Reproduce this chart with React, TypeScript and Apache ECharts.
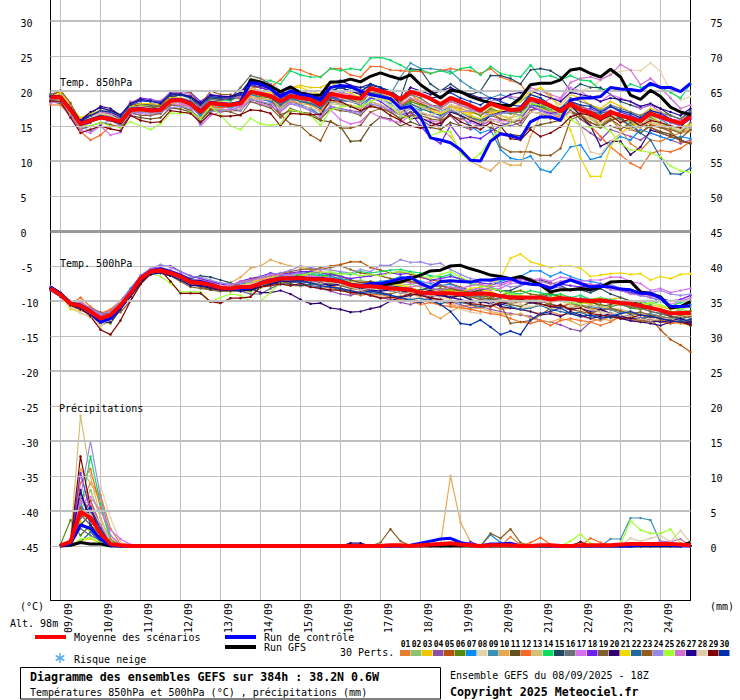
import React, { useEffect, useRef } from "react";
import * as echarts from "echarts";

const N = 65;
const dayNames = ["09/09","10/09","11/09","12/09","13/09","14/09","15/09","16/09","17/09","18/09","19/09","20/09","21/09","22/09","23/09","24/09"];
const categories: string[] = [];
for (let i = 0; i < N; i++) categories.push((i - 1) % 4 === 0 ? dayNames[(i - 1) / 4] : "s" + i);

const leftTicks = [30,25,20,15,10,5,0,-5,-10,-15,-20,-25,-30,-35,-40,-45];
const rightTicks = [75,70,65,60,55,50,45,40,35,30,25,20,15,10,5,0];
const thinLines = [25,15,5,-5,-15,-25,-35,-45];
const thickLines = [30,20,10,-10,-20,-30,-40];
const doubleLines = [0];

const memberColors = ["#e87d2e","#8bc46c","#f0c400","#8c4fa8","#b8520a","#548a0a","#0a8cf5","#e6d4a8","#3c90b8","#e8a850","#665020","#f86820","#d0c078","#0adc64","#204860","#687078","#d870f0","#7020f0","#806030","#300070","#f0d800","#2068a0","#905c20","#9888e8","#a0ff30","#d070d0","#200090","#e0cca8","#800000","#0030b0"];

const mean850 = [19.1,19.1,17.3,15.3,15.8,16.2,16,15.6,17.3,17.4,17.2,17.3,18.6,18.7,18.2,17,18.3,18.1,18,18.2,19.9,19.6,19.3,18.5,19.3,19,18.8,18,19.6,19.3,19.1,18.9,20.4,20,19.6,18.8,19.9,19.5,18.9,18.1,19,18.5,17.9,17.2,18.2,17.7,17.3,17.4,18.9,18.5,17.9,17.1,18.2,17.3,16.9,16.1,17,16.5,16.1,15.7,16.8,16.3,15.8,15.4,16.3];
const control850 = [19.2,19.1,17.4,15.4,15.9,16.3,16.1,15.6,17.4,17.5,17.3,17.4,18.7,18.8,18.3,17.2,18.4,18.2,18.1,18.4,21.2,21,20.3,19.2,20,19.5,19.3,18.8,20.5,20.8,20.6,20,19.5,19.2,18.9,17.5,17.8,16.3,13.3,13,12.6,11.6,10.1,10,12.8,13.9,13.6,13.2,15.6,16.3,16.3,15.8,18.7,19,19,19.2,20.5,20.3,20.2,20,21.1,20.5,20.5,19.9,21.1];
const gfs850 = [19.1,19.1,17.3,15.2,15.7,16.2,15.9,15.5,17.3,17.4,17.2,17.3,18.6,18.7,18.2,17,18.3,18.1,18,18.3,21.6,21.3,20.7,19.9,20.6,19.7,19.4,19.4,21.3,21.3,21.7,21.3,22.1,22.6,22.1,21.7,22.3,20.9,19.9,19,20.1,19.9,19.2,18.7,18.3,18,17.9,19,20.9,21.1,21.1,21.6,23,23.2,22.5,22,23.1,22,19.4,18.8,20.1,19.2,17.7,17,16.6];

const mean500 = [-8.2,-9.1,-10.4,-10.7,-11.5,-12.5,-12,-10.6,-8.9,-6.8,-5.8,-5.6,-6,-6.5,-7.3,-7.4,-7.7,-8.1,-8.2,-8,-8,-7.5,-7.1,-6.8,-6.8,-6.7,-6.9,-6.9,-7,-7.2,-7.7,-7.9,-7.9,-8,-8.2,-8.3,-8.4,-8.8,-8.9,-8.9,-8.9,-9,-9,-8.9,-9,-9.3,-9.5,-9.5,-9.5,-9.5,-9.8,-9.6,-9.7,-9.9,-10,-9.9,-10.1,-10.3,-10.4,-10.7,-11,-11.3,-11.8,-11.7,-11.7];
const control500 = [-8,-9,-10.4,-10.8,-11.6,-13,-12.5,-10.8,-9,-6.7,-5.7,-5.4,-5.8,-6.3,-7.1,-7.2,-7.6,-8.1,-8.3,-8.2,-8.2,-7.4,-7,-6.7,-6.7,-6.6,-6.8,-6.8,-6.9,-7.1,-7.6,-7.8,-7.5,-7.5,-7.2,-6.8,-6.6,-7.5,-8.1,-7.2,-7.1,-7.2,-7.3,-7,-7,-6.8,-6.8,-7.4,-7.6,-7.7,-8.2,-7.5,-7,-7.5,-8,-7.9,-8,-8.3,-8.4,-8.9,-8.9,-9.6,-10.8,-10.8,-10.7];
const gfs500 = [-8,-8.9,-10.3,-10.6,-11.4,-12.8,-12.2,-10.7,-9,-6.8,-5.8,-5.5,-6,-6.4,-7.2,-7.3,-7.7,-8.2,-8.3,-8.2,-8.3,-7.5,-7.1,-6.8,-6.8,-6.7,-6.9,-6.9,-7,-7.2,-7.7,-7.9,-7.9,-7.8,-7.5,-7.3,-6.8,-6.3,-5.7,-5.6,-5,-4.9,-5.4,-5.8,-6.3,-6.5,-6.8,-6.5,-7,-7.7,-8.7,-8.4,-8.4,-8.2,-8.4,-8,-7.3,-7.2,-7.2,-8.7,-8.9,-9.4,-11,-10.8,-10.1];

const meanPrecip = [null,0.1,0.6,4.9,4,1.8,0.3,0.1,0,0,0,0,0,0,0,0,0,0,0,0,0,0,0,0,0,0,0,0,0,0,0,0,0,0,0.1,0.1,0,0.1,0.2,0.3,0.4,0.2,0.1,0,0.1,0.1,0.1,0,0,0.1,0.1,0,0,0.1,0.1,0.1,0.1,0.2,0.3,0.3,0.3,0.3,0.3,0.2,0.1];
const controlPrecip = [null,0,0.3,3,2.5,1,0.1,0,0,0,0,0,0,0,0,0,0,0,0,0,0,0,0,0,0,0,0,0,0,0,0,0,0,0,0,0,0.1,0.4,0.7,1,1.1,0.5,0.2,0,0.3,0.3,0.4,0,0,0,0,0,0,0,0,0,0,0,0,0.1,0.1,0.1,0.1,0,0];
const gfsPrecip = [null,0,0.1,0.5,0.3,0.3,0,0,0,0,0,0,0,0,0,0,0,0,0,0,0,0,0,0,0,0,0,0,0,0,0,0,0,0,0,0,0,0,0,0,0,0,0,0,0,0,0,0,0,0,0,0,0,0,0,0,0,0,0,0,0,0,0,0,0.5];

// Perturbations: temperatures in tenths of a degree, from 18Z on 08/09 every 6 h
const members850 = [
[187,188,170,150,158,162,158,153,170,170,168,172,184,186,180,165,180,178,178,182,198,195,190,178,188,185,180,172,190,188,185,180,200,198,190,182,195,185,175,170,178,175,170,165,172,170,172,178,190,180,172,165,178,172,165,150,160,145,125,115,130,128,135,140,145],
[190,192,172,155,160,168,165,158,175,178,175,176,186,188,182,172,184,182,182,185,205,200,195,185,195,190,188,180,195,192,190,185,198,195,188,175,185,180,172,165,175,170,165,160,170,172,168,165,185,178,172,170,180,165,160,150,165,160,155,150,160,155,150,145,148],
[185,190,175,158,165,170,168,160,178,180,178,178,188,185,180,170,182,180,178,185,200,198,200,190,205,208,205,205,212,205,200,195,205,200,195,180,188,190,175,165,178,172,168,170,178,165,160,175,195,205,190,180,195,190,180,175,185,178,170,165,175,170,165,160,165],
[188,185,168,148,155,165,160,155,172,175,172,170,182,180,178,165,178,175,172,178,190,188,185,175,185,180,175,165,178,175,172,170,185,180,170,160,170,160,150,155,165,150,145,150,158,155,150,155,172,175,170,160,172,150,140,130,145,140,135,130,140,135,130,125,130],
[192,195,178,160,162,165,165,158,170,172,170,172,190,195,192,175,190,188,190,195,208,205,200,185,195,192,188,182,198,195,192,190,205,200,190,178,188,182,175,172,180,178,175,168,170,160,155,158,172,180,178,170,185,178,172,165,170,165,145,140,152,148,142,128,125],
[186,188,170,152,160,165,162,156,172,172,170,172,185,186,180,170,182,180,178,182,195,192,190,182,190,186,182,178,192,190,188,182,198,192,188,178,185,180,178,175,185,180,172,165,175,170,168,170,182,178,170,165,178,170,170,160,170,165,158,150,162,155,148,140,150],
[189,190,172,155,162,165,160,152,168,170,172,172,185,184,178,165,180,178,176,180,195,190,185,178,188,180,175,165,185,182,178,175,190,188,182,170,178,172,178,172,175,165,150,140,145,116,104,101,107,88,84,100,120,123,102,106,125,135,130,145,140,135,130,135,132],
[195,200,180,160,168,172,170,165,180,182,180,178,190,190,188,172,185,185,186,190,218,218,215,200,205,200,198,190,200,198,195,190,200,198,192,185,190,185,178,172,180,178,172,168,178,175,172,175,190,195,190,180,195,200,205,215,225,228,230,229,240,228,200,187,192],
[190,188,172,152,158,162,160,155,172,174,172,172,186,186,180,168,182,180,180,184,198,196,192,182,192,186,184,176,192,195,205,205,205,200,195,220,240,232,232,230,228,215,205,198,190,195,190,185,195,190,175,170,180,172,165,160,165,170,165,158,165,160,150,148,152],
[186,186,170,154,162,168,164,156,174,176,174,174,186,184,178,168,180,180,178,180,192,190,188,178,186,182,180,172,186,182,180,175,185,180,172,168,178,170,160,145,135,115,100,92,86,100,94,94,135,165,170,160,170,165,160,160,165,158,150,148,155,150,145,140,142],
[185,182,165,145,150,155,152,148,165,162,160,162,176,174,170,158,172,170,172,172,188,184,180,166,172,170,165,158,156,149,128,129,151,163,160,150,156,150,148,145,155,150,148,152,148,140,138,136,148,152,155,158,172,160,150,148,158,162,150,155,148,142,138,132,145],
[180,180,165,142,130,137,150,150,168,172,172,170,182,180,178,168,178,176,178,184,205,205,205,216,232,230,224,220,232,232,223,220,235,235,230,229,228,228,225,229,232,230,229,225,232,220,215,210,190,175,160,165,185,170,150,135,120,109,97,90,111,115,113,118,128],
[187,188,168,148,158,165,162,156,170,172,168,168,182,180,172,162,176,174,172,175,190,188,188,175,182,178,176,170,182,180,178,174,185,180,176,170,180,178,172,165,172,170,165,160,170,165,162,165,178,175,170,165,175,170,162,155,162,158,152,148,158,152,148,142,148],
[188,192,174,158,165,170,168,160,176,178,178,178,190,188,185,172,190,188,186,195,215,212,215,210,229,223,220,220,232,229,232,230,247,248,244,237,229,231,225,229,225,232,234,223,235,225,222,220,237,220,222,216,222,216,214,201,205,200,210,205,208,205,198,190,210],
[194,192,176,158,165,172,168,160,178,182,180,180,192,194,190,178,190,188,188,192,208,205,200,190,195,192,190,185,200,205,205,200,208,205,200,190,232,230,210,200,210,200,195,200,222,222,218,210,230,232,229,220,200,210,205,205,195,185,180,175,180,175,165,160,172],
[196,198,178,160,164,170,168,162,176,178,178,178,190,190,186,178,188,186,190,205,222,218,210,195,200,198,195,190,205,205,200,195,200,195,190,185,195,190,180,178,188,182,178,175,180,178,175,172,185,182,178,175,190,185,180,172,180,175,170,165,172,168,165,160,170],
[183,185,162,144,140,150,137,141,165,168,165,168,180,182,178,150,165,170,172,178,185,182,178,170,182,178,172,163,173,159,153,156,170,162,158,155,165,160,158,155,165,160,155,150,160,158,155,160,185,180,190,188,205,200,190,185,195,190,185,175,180,170,160,158,162],
[190,192,178,160,165,170,168,162,182,190,188,185,198,200,198,185,195,193,192,195,210,205,200,190,198,193,188,182,192,188,186,182,190,185,175,165,170,150,134,125,151,132,134,132,142,150,155,160,178,172,168,170,180,172,175,168,178,170,165,160,170,162,155,150,160],
[185,190,180,160,155,165,160,152,170,165,165,168,180,178,172,160,174,172,170,165,185,180,176,162,175,170,168,160,175,172,170,165,180,175,170,160,170,168,165,160,172,165,160,155,165,160,158,150,170,168,162,158,172,165,155,148,150,145,155,140,150,148,145,140,155],
[190,188,175,158,168,178,175,165,180,182,182,180,194,195,192,183,192,190,192,195,212,208,205,198,205,200,195,190,200,205,200,195,205,202,198,180,160,162,155,150,170,165,158,152,165,170,172,175,190,180,175,170,180,165,150,121,128,128,109,120,144,140,135,130,125],
[192,198,178,162,168,172,170,162,178,182,182,180,190,190,182,175,185,184,182,186,202,200,198,195,205,205,200,195,202,200,198,190,195,190,185,178,182,175,170,168,172,170,165,160,168,172,178,185,200,205,195,172,144,104,78,78,120,140,150,155,165,155,150,148,152],
[188,190,172,152,160,165,162,155,172,174,172,175,186,188,180,168,182,180,180,185,198,195,190,180,190,185,182,175,190,186,185,180,192,195,188,178,182,175,170,165,172,168,162,158,165,168,170,172,180,178,175,172,182,175,170,168,172,160,150,140,130,105,82,81,90],
[192,201,183,155,165,170,172,165,182,178,176,178,195,200,198,180,200,195,195,188,205,200,190,166,153,150,137,129,157,147,147,151,170,175,170,160,165,165,160,158,165,160,162,155,158,120,113,113,113,108,108,118,159,165,155,150,160,150,145,150,148,140,135,130,125],
[186,184,165,150,142,152,158,150,168,170,168,170,176,178,175,152,170,172,175,172,188,185,182,172,182,178,172,165,178,175,170,168,182,178,172,165,175,170,165,162,172,170,172,170,165,168,170,165,180,172,165,168,185,180,172,170,172,165,160,155,165,160,155,150,148],
[190,188,170,150,150,155,150,148,156,150,145,153,168,168,170,160,178,166,150,145,161,153,151,153,173,170,165,151,173,177,179,178,185,190,178,165,160,168,136,142,142,111,100,111,130,147,154,163,182,180,175,168,160,150,148,150,142,125,116,115,112,106,93,86,84],
[188,190,175,155,162,170,168,162,185,186,186,186,196,198,195,178,192,190,190,192,212,210,210,195,202,198,195,188,200,198,195,188,195,192,188,180,190,185,180,175,185,180,175,170,185,190,192,190,205,200,195,190,212,218,220,216,223,238,230,209,218,205,190,175,180],
[192,190,176,158,170,176,172,166,182,188,186,182,196,196,192,182,194,192,192,198,215,212,205,195,205,198,192,188,212,215,208,205,210,205,195,188,205,200,195,200,205,198,195,190,190,188,195,198,200,195,190,185,198,195,192,185,190,188,185,178,182,175,170,165,175],
[190,194,174,155,162,168,165,158,174,178,175,175,188,188,182,170,184,182,180,185,205,200,195,185,192,188,185,180,195,190,185,182,192,188,180,172,178,170,165,170,175,168,160,155,158,155,158,160,170,168,165,160,170,150,113,109,128,140,145,150,160,155,150,145,150],
[186,185,162,140,145,150,146,143,165,158,155,156,172,170,168,155,168,164,164,166,173,172,168,150,168,167,166,167,187,185,178,172,178,175,165,158,150,147,150,154,166,156,150,145,155,150,132,130,145,135,140,149,163,168,165,158,165,155,160,150,158,155,150,148,165],
[192,192,175,156,165,172,170,163,180,186,185,184,195,195,190,180,192,190,190,195,212,208,205,192,200,195,192,185,200,205,200,198,210,205,200,190,200,195,190,192,198,190,185,180,190,185,180,178,195,190,180,175,185,180,178,170,178,172,168,162,172,168,160,155,168],
];

const members500 = [
[-84,-92,-106,-100,-112,-118,-114,-102,-86,-64,-57,-55,-60,-68,-76,-76,-80,-85,-86,-84,-78,-72,-66,-65,-68,-70,-75,-78,-82,-85,-88,-92,-90,-92,-94,-98,-100,-102,-98,-100,-105,-108,-106,-110,-105,-112,-110,-112,-115,-118,-115,-120,-118,-122,-125,-128,-122,-120,-125,-128,-125,-128,-130,-132,-130],
[-80,-88,-102,-105,-112,-120,-124,-108,-92,-72,-60,-58,-62,-66,-74,-72,-76,-80,-84,-82,-82,-78,-70,-64,-66,-64,-62,-66,-64,-68,-72,-70,-74,-72,-75,-78,-76,-80,-86,-82,-85,-88,-90,-85,-92,-95,-90,-94,-98,-96,-100,-92,-95,-100,-105,-98,-100,-104,-100,-108,-110,-112,-118,-112,-115],
[-83,-90,-108,-112,-116,-130,-125,-110,-94,-70,-60,-58,-64,-70,-72,-76,-78,-82,-84,-78,-72,-70,-66,-62,-60,-62,-64,-66,-65,-70,-75,-74,-78,-76,-74,-75,-72,-74,-82,-85,-84,-88,-86,-84,-86,-92,-88,-85,-90,-92,-95,-92,-98,-102,-105,-100,-98,-95,-100,-102,-105,-108,-112,-110,-108],
[-82,-93,-100,-104,-118,-122,-118,-104,-88,-66,-58,-54,-62,-67,-70,-72,-74,-78,-80,-82,-84,-80,-76,-74,-76,-78,-80,-82,-86,-90,-92,-88,-92,-95,-98,-102,-105,-100,-95,-98,-102,-105,-110,-108,-112,-115,-118,-120,-122,-128,-130,-134,-140,-143,-130,-125,-120,-125,-128,-130,-125,-128,-132,-130,-135],
[-81,-90,-106,-108,-114,-125,-130,-112,-90,-70,-56,-54,-58,-64,-72,-70,-74,-78,-80,-84,-86,-80,-74,-72,-66,-62,-58,-52,-50,-48,-44,-44,-52,-56,-60,-58,-62,-66,-70,-72,-75,-80,-85,-90,-92,-94,-98,-100,-102,-100,-105,-108,-104,-106,-110,-112,-112,-115,-118,-120,-125,-141,-155,-163,-173],
[-83,-92,-104,-110,-115,-128,-132,-112,-92,-72,-62,-60,-64,-68,-76,-78,-82,-85,-86,-85,-86,-80,-76,-72,-70,-68,-66,-68,-72,-70,-74,-78,-76,-78,-80,-82,-85,-88,-85,-82,-85,-84,-88,-92,-95,-92,-88,-85,-90,-92,-88,-95,-98,-100,-102,-105,-108,-105,-110,-112,-108,-112,-115,-118,-114],
[-80,-89,-100,-105,-112,-120,-118,-100,-82,-65,-56,-55,-58,-66,-72,-72,-76,-78,-80,-76,-74,-72,-68,-64,-62,-60,-60,-62,-65,-68,-70,-72,-76,-72,-70,-65,-68,-72,-75,-78,-76,-82,-85,-80,-78,-72,-68,-65,-57,-57,-65,-59,-65,-70,-72,-75,-80,-85,-88,-92,-95,-100,-108,-112,-105],
[-84,-92,-110,-118,-122,-135,-128,-108,-90,-70,-60,-58,-60,-64,-74,-76,-80,-84,-85,-86,-88,-82,-78,-75,-78,-80,-78,-76,-74,-76,-80,-85,-88,-92,-95,-92,-96,-95,-90,-88,-92,-98,-102,-105,-102,-100,-105,-108,-110,-106,-112,-110,-108,-112,-115,-118,-116,-120,-124,-126,-125,-128,-130,-128,-126],
[-82,-90,-105,-104,-118,-128,-122,-108,-88,-66,-56,-56,-62,-68,-74,-75,-78,-82,-82,-80,-82,-78,-74,-72,-72,-70,-70,-72,-74,-75,-80,-82,-80,-82,-85,-86,-82,-85,-90,-92,-95,-92,-90,-94,-98,-100,-102,-98,-100,-102,-100,-98,-102,-106,-108,-110,-112,-118,-115,-120,-118,-122,-125,-124,-128],
[-85,-94,-108,-112,-120,-126,-118,-105,-86,-68,-60,-56,-58,-62,-70,-72,-72,-76,-74,-66,-53,-50,-41,-46,-50,-52,-55,-58,-60,-65,-70,-72,-74,-78,-82,-84,-88,-95,-118,-125,-115,-108,-112,-110,-115,-118,-120,-118,-125,-128,-130,-125,-128,-135,-130,-125,-128,-122,-125,-130,-128,-125,-130,-132,-135],
[-83,-91,-103,-108,-114,-122,-126,-110,-90,-70,-62,-58,-62,-66,-76,-80,-84,-86,-85,-82,-78,-72,-70,-72,-74,-70,-66,-65,-62,-64,-70,-74,-72,-75,-80,-82,-86,-84,-82,-85,-88,-92,-95,-90,-92,-102,-105,-108,-102,-95,-90,-94,-100,-102,-100,-108,-105,-102,-108,-110,-115,-118,-122,-125,-122],
[-81,-90,-105,-95,-108,-118,-112,-100,-85,-66,-57,-54,-58,-64,-72,-74,-78,-82,-82,-78,-76,-70,-68,-68,-72,-70,-72,-74,-78,-82,-85,-88,-92,-90,-95,-98,-100,-105,-102,-106,-108,-110,-112,-115,-118,-120,-125,-130,-132,-128,-135,-128,-125,-128,-130,-135,-130,-122,-120,-125,-128,-130,-132,-130,-134],
[-82,-91,-103,-106,-116,-136,-128,-110,-92,-72,-60,-58,-60,-66,-74,-74,-78,-80,-82,-84,-82,-78,-74,-70,-70,-72,-74,-72,-70,-72,-76,-78,-80,-84,-86,-85,-88,-90,-92,-88,-90,-92,-94,-96,-95,-98,-100,-102,-98,-100,-102,-100,-105,-108,-106,-108,-110,-112,-115,-118,-120,-122,-125,-122,-120],
[-80,-89,-102,-108,-112,-124,-120,-104,-86,-66,-58,-56,-60,-64,-70,-73,-75,-80,-84,-84,-85,-80,-72,-66,-64,-62,-62,-64,-62,-60,-62,-58,-60,-58,-56,-55,-58,-60,-64,-66,-62,-70,-75,-78,-80,-85,-88,-90,-85,-88,-92,-90,-95,-92,-98,-95,-98,-100,-102,-100,-105,-100,-108,-102,-100],
[-84,-93,-106,-110,-118,-128,-124,-106,-90,-68,-60,-56,-58,-62,-68,-64,-66,-70,-74,-80,-84,-80,-76,-74,-76,-78,-76,-75,-78,-76,-80,-84,-82,-80,-78,-80,-82,-85,-80,-78,-82,-85,-88,-84,-82,-86,-85,-78,-72,-70,-74,-78,-85,-84,-88,-82,-90,-95,-100,-104,-108,-115,-122,-125,-135],
[-82,-90,-104,-106,-114,-126,-122,-108,-90,-70,-59,-57,-61,-65,-71,-72,-74,-78,-82,-86,-90,-90,-82,-76,-74,-72,-74,-76,-72,-74,-78,-78,-80,-83,-85,-88,-92,-90,-88,-90,-94,-90,-92,-95,-98,-96,-92,-94,-96,-92,-95,-98,-100,-96,-98,-102,-100,-105,-108,-110,-115,-118,-120,-116,-118],
[-80,-88,-102,-102,-110,-118,-116,-100,-84,-65,-56,-55,-56,-62,-72,-72,-75,-78,-80,-78,-76,-72,-68,-66,-62,-60,-64,-66,-70,-72,-75,-78,-76,-74,-76,-72,-74,-76,-72,-78,-80,-84,-85,-82,-84,-82,-75,-74,-70,-68,-72,-66,-68,-72,-70,-70,-66,-66,-72,-75,-85,-82,-88,-85,-82],
[-81,-89,-103,-106,-113,-120,-118,-102,-84,-64,-54,-50,-50,-58,-64,-68,-72,-76,-78,-72,-68,-65,-60,-62,-60,-58,-58,-60,-62,-65,-68,-66,-64,-62,-60,-62,-60,-65,-70,-68,-65,-68,-72,-74,-76,-75,-70,-68,-72,-75,-80,-76,-78,-80,-78,-76,-80,-84,-88,-90,-92,-96,-100,-98,-92],
[-83,-92,-105,-108,-116,-124,-122,-108,-92,-72,-62,-60,-64,-72,-80,-82,-84,-86,-85,-82,-80,-76,-74,-72,-74,-70,-72,-74,-76,-78,-82,-84,-86,-88,-90,-86,-90,-92,-95,-92,-96,-92,-94,-98,-96,-100,-104,-100,-102,-106,-104,-108,-110,-106,-112,-115,-110,-114,-118,-116,-120,-122,-125,-120,-125],
[-83,-90,-105,-107,-116,-126,-124,-106,-88,-70,-60,-57,-62,-66,-75,-78,-82,-84,-80,-78,-82,-88,-88,-85,-90,-98,-104,-103,-110,-112,-116,-115,-111,-108,-100,-95,-92,-88,-85,-90,-95,-92,-98,-102,-100,-108,-110,-112,-115,-120,-118,-122,-115,-120,-125,-122,-118,-125,-128,-130,-132,-135,-130,-128,-132],
[-82,-91,-112,-114,-112,-122,-118,-104,-86,-66,-57,-55,-60,-64,-72,-71,-76,-80,-83,-78,-74,-69,-66,-66,-64,-66,-68,-70,-72,-70,-74,-76,-78,-80,-76,-78,-80,-86,-88,-90,-85,-88,-82,-80,-78,-68,-39,-33,-44,-48,-52,-50,-50,-53,-65,-63,-61,-60,-62,-61,-70,-65,-68,-62,-61],
[-84,-92,-106,-109,-119,-130,-124,-108,-90,-68,-58,-56,-61,-66,-74,-76,-78,-82,-84,-80,-78,-74,-72,-70,-72,-74,-78,-80,-80,-84,-86,-90,-88,-90,-92,-95,-98,-96,-100,-104,-100,-102,-105,-108,-106,-104,-108,-112,-110,-106,-112,-115,-118,-116,-122,-120,-124,-122,-120,-125,-122,-124,-126,-128,-130],
[-82,-92,-105,-104,-110,-116,-120,-116,-100,-76,-62,-58,-64,-70,-76,-76,-80,-82,-80,-74,-70,-66,-64,-60,-58,-55,-54,-55,-52,-50,-55,-60,-62,-64,-68,-70,-72,-76,-80,-78,-82,-85,-88,-92,-95,-105,-132,-130,-128,-120,-110,-105,-112,-115,-118,-112,-118,-122,-125,-128,-130,-128,-125,-130,-128],
[-80,-89,-101,-104,-110,-118,-115,-100,-85,-64,-54,-48,-52,-58,-65,-66,-70,-74,-76,-74,-72,-66,-62,-60,-56,-50,-52,-55,-56,-58,-60,-55,-58,-49,-49,-41,-45,-44,-48,-46,-55,-62,-68,-70,-72,-75,-80,-78,-74,-76,-82,-80,-85,-82,-80,-78,-76,-82,-85,-90,-88,-85,-90,-92,-90],
[-84,-91,-108,-110,-118,-125,-118,-102,-88,-68,-60,-65,-75,-87,-87,-87,-101,-95,-90,-92,-100,-100,-88,-74,-68,-64,-60,-60,-58,-62,-60,-64,-62,-64,-60,-58,-60,-64,-68,-62,-58,-66,-72,-78,-82,-85,-90,-92,-95,-98,-96,-100,-102,-105,-98,-96,-100,-104,-106,-108,-102,-106,-110,-112,-108],
[-81,-90,-102,-102,-112,-120,-120,-104,-86,-66,-55,-52,-56,-62,-70,-70,-74,-78,-78,-72,-70,-68,-64,-62,-64,-66,-68,-68,-70,-74,-78,-76,-78,-76,-80,-84,-80,-78,-82,-84,-80,-82,-78,-76,-80,-78,-72,-70,-68,-72,-76,-72,-70,-74,-76,-78,-84,-85,-90,-92,-95,-98,-105,-100,-96],
[-85,-94,-106,-112,-120,-132,-130,-112,-94,-74,-62,-60,-64,-70,-78,-78,-80,-84,-85,-86,-84,-80,-76,-72,-72,-70,-72,-74,-78,-76,-78,-82,-84,-86,-84,-88,-85,-90,-94,-92,-95,-98,-102,-100,-104,-106,-100,-98,-102,-105,-108,-110,-112,-110,-115,-112,-118,-122,-125,-124,-128,-130,-128,-125,-130],
[-84,-93,-110,-116,-124,-134,-126,-106,-88,-68,-58,-57,-60,-65,-72,-73,-76,-78,-80,-78,-76,-72,-70,-69,-70,-68,-72,-75,-72,-76,-80,-84,-82,-80,-84,-88,-90,-94,-92,-95,-98,-112,-116,-118,-105,-100,-102,-105,-108,-105,-110,-112,-108,-110,-112,-115,-118,-120,-122,-125,-128,-124,-126,-130,-125],
[-83,-92,-106,-110,-122,-141,-148,-128,-100,-76,-60,-56,-72,-89,-89,-89,-101,-103,-96,-96,-94,-80,-78,-76,-78,-75,-80,-82,-84,-85,-88,-88,-92,-96,-95,-94,-90,-92,-96,-98,-102,-100,-104,-105,-108,-102,-100,-98,-100,-104,-108,-106,-112,-110,-118,-120,-122,-125,-124,-120,-122,-125,-128,-130,-134],
[-82,-91,-104,-106,-116,-128,-124,-110,-94,-72,-60,-57,-60,-66,-74,-74,-78,-82,-84,-84,-82,-76,-70,-70,-70,-72,-74,-78,-80,-82,-85,-88,-86,-88,-92,-95,-100,-102,-98,-105,-115,-132,-134,-127,-137,-148,-143,-148,-127,-118,-115,-110,-118,-122,-120,-125,-122,-118,-115,-120,-122,-125,-128,-130,-126],
];

// Precipitation (mm): first eight 6 h steps of each perturbation
const precipEarly = [
[0,.5,6,9,7.3,2.5,.3,0],[0,.3,5,8,4,.8,0,0],[0,.2,3.5,2,1,.2,0,0],[0,.4,7,5,2,.3,0,0],[0,.6,4,6.5,3,.5,0,0],
[.2,3.7,1.5,3,1.5,.2,0,0],[.1,.5,6,3.5,2,.3,0,0],[0,.4,8,7,8.6,4,.6,0],[0,.3,4,5,2.5,.4,0,0],[0,.5,11,9,6.5,1.5,.1,0],
[0,.2,3,2.5,1,.1,0,0],[0,.6,9,11,5.5,1,.1,0],[0,1,18.6,10,4,.6,0,0],[0,.3,5,12.8,6,.8,0,0],[0,.3,3,4.5,1.5,.2,0,0],
[0,.2,2.5,1.5,.8,.1,0,0],[0,.4,6,7,5,2.3,1,.2],[0,.5,10.4,5,2,.3,0,0],[0,.3,4.5,3,1,.1,0,0],[0,.4,7.5,4,1.5,.2,0,0],
[0,.1,.8,1,.4,0,0,0],[.1,.3,.6,2,.6,.1,0,0],[0,.3,5.5,4,2,.3,0,0],[0,.6,7,15,7,1.5,.2,0],[0,.1,1,1.2,.5,.1,0,0],
[0,.4,6.5,6,3,.5,0,0],[0,.3,8,3,1,.1,0,0],[0,.3,5,4.5,3.5,.6,0,0],[0,.6,12.8,5.5,1.5,.2,0,0],[.1,.3,4.5,5.5,2.5,.3,0,0],
];
// Later showers: [perturbation, step, mm]
const precipLate = [
[10,39,.2],[10,40,10],[10,41,3.4],[10,42,.6],
[23,33,.5],[23,34,2.4],[23,35,.7],[23,44,1.8],[23,45,1.1],[23,46,2.4],[23,47,.5],
[7,44,1.6],[7,45,.5],[1,46,1.3],[1,47,.2],[12,48,.5],[12,49,1.2],[12,50,.2],
[25,52,.7],[25,53,1.7],[25,54,.4],[12,54,1.1],[12,55,.5],[29,53,.6],[20,30,.4],[20,31,.4],[18,42,.6],
[9,56,1],[9,57,1],[9,58,4],[9,59,4],[9,60,3.7],[9,61,.5],
[25,57,.3],[25,58,3.6],[25,59,2.3],[25,60,1.8],[25,61,1.8],[25,62,2.4],[25,63,.4],
[28,58,1.1],[28,59,.7],[28,60,1.1],[28,61,1.5],[28,62,.6],[28,63,2.2],[28,64,.5],
[26,61,.7],[26,62,.6],[26,63,1],[17,62,.5],
];

const MONO = '"DejaVu Sans Mono", monospace';

function App() {
  const ref = useRef<HTMLDivElement>(null);
  useEffect(() => {
    document.body.style.margin = "0";
    const chart = echarts.init(ref.current!, undefined, { renderer: "svg" });
    const line = (name: string, data: any[], axis: number, color: string, width: number, z: number) => ({
      name, type: "line", data, yAxisIndex: axis, z,
      symbol: "none", silent: true, lineStyle: { color, width }, itemStyle: { color },
      connectNulls: false,
    });
    const member = (name: string, data: any[], axis: number, color: string) => ({
      name, type: "line", data, yAxisIndex: axis, z: 2, silent: true,
      symbol: "circle", symbolSize: 2.5, showSymbol: true, showAllSymbols: true,
      lineStyle: { color, width: 1.2 }, itemStyle: { color },
    });
    const hLines = (vals: number[], color: string, width: number) => ({
      type: "line", yAxisIndex: 0, data: [], z: 0, silent: true,
      markLine: { silent: true, symbol: "none", label: { show: false }, animation: false,
        lineStyle: { color, width, type: "solid" }, data: vals.map((v) => ({ yAxis: v })) },
    });
    const text = (x: number, y: number, t: string, extra: any = {}) => ({
      type: "text", x, y, silent: true, z: 10,
      style: { text: t, font: `10px ${MONO}`, fill: "#000", verticalAlign: "middle", ...extra },
    });
    const rect = (x: number, y: number, w: number, h: number, fill: string) => ({
      type: "rect", silent: true, shape: { x, y, width: w, height: h }, style: { fill },
    });
    const flake = (x1: number, y1: number, x2: number, y2: number) => ({
      type: "line", silent: true, shape: { x1, y1, x2, y2 }, style: { stroke: "#58aee6", lineWidth: 1.5 },
    });
    const swatches: any[] = [];
    memberColors.forEach((c, i) => {
      swatches.push(rect(400 + i * 11, 650, 10.5, 6, c));
      swatches.push(text(405.5 + i * 11, 644, String(i + 1).padStart(2, "0"), { font: `bold 8px ${MONO}`, align: "center" }));
    });
    const memberSeries: any[] = [];
    memberColors.forEach((c, m) => {
      const id = String(m + 1).padStart(2, "0");
      memberSeries.push(member("P" + id + " 850", members850[m].map((v) => v / 10), 0, c));
      memberSeries.push(member("P" + id + " 500", members500[m].map((v) => v / 10), 0, c));
      const p: (number | null)[] = new Array(N).fill(0);
      p[0] = null;
      precipEarly[m].forEach((v, k) => { p[k + 1] = v; });
      precipLate.filter((e) => e[0] === m + 1).forEach((e) => { p[e[1]] = e[2]; });
      memberSeries.push(member("P" + id + " précip", p, 1, c));
    });
    const axisLine = { show: true, onZero: false, lineStyle: { color: "#000", width: 1 } };
    const yLabel = { align: "left", fontFamily: MONO, fontSize: 10, color: "#000", verticalAlign: "top", lineHeight: 4 };
    chart.setOption({
      animation: false,
      backgroundColor: "#fff",
      grid: { left: 50.5, right: 49.5, top: 0, bottom: 100, containLabel: false },
      xAxis: {
        type: "category", data: categories, boundaryGap: false,
        axisLine, axisTick: { show: false },
        splitLine: { show: true, interval: (i: number) => (i - 1) % 4 === 0, lineStyle: { color: "#c0c0c0", width: 1 } },
        axisLabel: { interval: (i: number) => (i - 1) % 4 === 0, rotate: 90, verticalAlign: "top", align: "right", margin: 3, lineHeight: 15, fontFamily: MONO, fontSize: 10, color: "#000", hideOverlap: false },
      },
      yAxis: [
        { type: "value", min: -52.714, max: 33, position: "left", axisLine, axisTick: { show: false }, splitLine: { show: false },
          axisLabel: { ...yLabel, customValues: leftTicks, margin: 30 } },
        { type: "value", min: -7.714, max: 78, position: "right", axisLine, axisTick: { show: false }, splitLine: { show: false },
          axisLabel: { ...yLabel, customValues: rightTicks, margin: 20 } },
      ],
      series: [
        hLines(thinLines, "#c0c0c0", 1),
        hLines(thickLines, "#c0c0c0", 2),
        hLines(doubleLines, "#999999", 3),
        ...memberSeries,
        line("GFS 850", gfs850, 0, "#000", 3, 5),
        line("Contrôle 850", control850, 0, "#0000ff", 3, 6),
        line("Moyenne 850", mean850, 0, "#ff0000", 4, 7),
        line("GFS 500", gfs500, 0, "#000", 3, 5),
        line("Contrôle 500", control500, 0, "#0000ff", 3, 6),
        line("Moyenne 500", mean500, 0, "#ff0000", 4, 7),
        line("GFS précip", gfsPrecip, 1, "#000", 3, 5),
        line("Contrôle précip", controlPrecip, 1, "#0000ff", 3, 6),
        line("Moyenne précip", meanPrecip, 1, "#ff0000", 4, 7),
      ],
      graphic: { elements: [
        text(60, 82, "Temp. 850hPa"),
        text(60, 263, "Temp. 500hPa"),
        text(59, 408, "Précipitations"),
        text(20, 606, "(°C)"),
        text(710, 606, "(mm)"),
        text(10, 623, "Alt. 98m"),
        rect(35, 635, 31, 4, "#ff0000"),
        rect(225, 635, 31, 4, "#0000ff"),
        rect(225, 645, 31, 4, "#000000"),
        text(74, 637, "Moyenne des scénarios"),
        text(264, 637, "Run de contrôle"),
        text(264, 647, "Run GFS"),
        text(74, 659, "Risque neige"),
        text(340, 652, "30 Perts."),
        flake(60, 653, 60, 663), flake(55.7, 655.5, 64.3, 660.5), flake(55.7, 660.5, 64.3, 655.5),
        ...swatches,
        { type: "rect", silent: true, shape: { x: 20.5, y: 667.5, width: 420, height: 31.5 }, style: { fill: "#fff", stroke: "#000", lineWidth: 1 } },
        text(30, 677, "Diagramme des ensembles GEFS sur 384h : 38.2N 0.6W", { font: `bold 11.6px ${MONO}` }),
        text(30, 692, "Températures 850hPa et 500hPa (°C) , précipitations (mm)"),
        text(450, 675, "Ensemble GEFS du 08/09/2025 - 18Z"),
        text(450, 692, "Copyright 2025 Meteociel.fr", { font: `bold 11.6px ${MONO}` }),
      ] },
    });
    return () => chart.dispose();
  }, []);
  return <div ref={ref} style={{ width: 740, height: 700, position: "absolute", left: 0, top: 0 }} />;
}
export default App;
